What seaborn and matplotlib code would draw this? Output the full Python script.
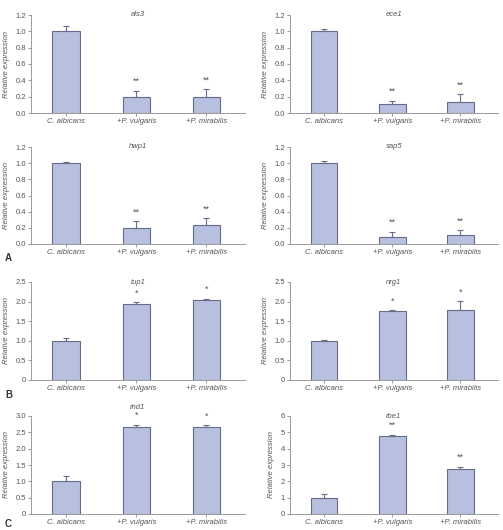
import matplotlib
matplotlib.use("Agg")
import matplotlib.pyplot as plt
import seaborn as sns
import pandas as pd

sns.set_style("ticks")
plt.rcParams["font.family"] = ["Liberation Sans Narrow", "Liberation Sans", "DejaVu Sans"]

groups = ["C. albicans", "+P. vulgaris", "+P. mirabilis"]

genes = ["als3", "ece1", "hwp1", "sap5", "tup1", "nrg1", "rhd1", "rbe1"]
means = {
    "als3": [1.00, 0.20, 0.20],
    "ece1": [1.00, 0.11, 0.14],
    "hwp1": [1.00, 0.20, 0.23],
    "sap5": [1.00, 0.09, 0.11],
    "tup1": [1.00, 1.94, 2.05],
    "nrg1": [1.00, 1.76, 1.79],
    "rhd1": [1.00, 2.66, 2.65],
    "rbe1": [1.00, 4.80, 2.78],
}
errors = {
    "als3": [0.06, 0.07, 0.09],
    "ece1": [0.03, 0.04, 0.09],
    "hwp1": [0.02, 0.08, 0.09],
    "sap5": [0.03, 0.06, 0.06],
    "tup1": [0.07, 0.04, 0.02],
    "nrg1": [0.02, 0.02, 0.22],
    "rhd1": [0.15, 0.07, 0.06],
    "rbe1": [0.20, 0.05, 0.10],
}
stars = {
    "als3": ["", "**", "**"],
    "ece1": ["", "**", "**"],
    "hwp1": ["", "**", "**"],
    "sap5": ["", "**", "**"],
    "tup1": ["", "*", "*"],
    "nrg1": ["", "*", "*"],
    "rhd1": ["", "*", "*"],
    "rbe1": ["", "**", "**"],
}
yticks = {
    "als3": [0.0, 0.2, 0.4, 0.6, 0.8, 1.0, 1.2],
    "ece1": [0.0, 0.2, 0.4, 0.6, 0.8, 1.0, 1.2],
    "hwp1": [0.0, 0.2, 0.4, 0.6, 0.8, 1.0, 1.2],
    "sap5": [0.0, 0.2, 0.4, 0.6, 0.8, 1.0, 1.2],
    "tup1": [0, 0.5, 1.0, 1.5, 2.0, 2.5],
    "nrg1": [0, 0.5, 1.0, 1.5, 2.0, 2.5],
    "rhd1": [0, 0.5, 1.0, 1.5, 2.0, 2.5, 3.0],
    "rbe1": [0, 1, 2, 3, 4, 5, 6],
}
ytick_labels = {
    "als3": ["0.0", "0.2", "0.4", "0.6", "0.8", "1.0", "1.2"],
    "ece1": ["0.0", "0.2", "0.4", "0.6", "0.8", "1.0", "1.2"],
    "hwp1": ["0.0", "0.2", "0.4", "0.6", "0.8", "1.0", "1.2"],
    "sap5": ["0.0", "0.2", "0.4", "0.6", "0.8", "1.0", "1.2"],
    "tup1": ["0", "0.5", "1.0", "1.5", "2.0", "2.5"],
    "nrg1": ["0", "0.5", "1.0", "1.5", "2.0", "2.5"],
    "rhd1": ["0", "0.5", "1.0", "1.5", "2.0", "2.5", "3.0"],
    "rbe1": ["0", "1", "2", "3", "4", "5", "6"],
}

W, H = 503, 530
fig = plt.figure(figsize=(W / 100, H / 100), dpi=100)

# axes boxes in pixels: (top, bottom) per row, (left, right) per column
rows = [(15, 113), (147, 244), (282, 380), (416, 514)]
cols = [(31, 245), (290, 498)]

bar_color = "#b8c0e0"
edge_color = "#676c8a"
text_color = "#555555"
axis_color = "#8a8a8a"

for i, gene in enumerate(genes):
    top, bottom = rows[i // 2]
    left, right = cols[i % 2]
    ax = fig.add_axes([left / W, 1 - bottom / H, (right - left) / W, (bottom - top) / H])
    df = pd.DataFrame({"group": groups, "value": means[gene]})
    sns.barplot(data=df, x="group", y="value", color=bar_color, edgecolor=edge_color,
                linewidth=0.8, width=0.39, saturation=1, errorbar=None, ax=ax)
    ax.errorbar(range(3), means[gene], yerr=[[0, 0, 0], errors[gene]], fmt="none",
                ecolor=edge_color, elinewidth=0.8, capsize=2.5, capthick=0.8)
    ymax = yticks[gene][-1]
    for j in range(3):
        if stars[gene][j]:
            ax.text(j, means[gene][j] + errors[gene][j] + 0.05 * ymax, stars[gene][j],
                    ha="center", va="bottom", fontsize=6.5, color=text_color)
    ax.set_ylim(0, ymax)
    ax.set_xlim(-0.5, 2.55)
    ax.set_yticks(yticks[gene])
    ax.set_yticklabels(ytick_labels[gene])
    ax.set_xticks(range(3))
    ax.set_xticklabels(groups, style="italic")
    ax.set_xlabel("")
    ax.set_ylabel("Relative expression", fontsize=5.5, color=text_color, style="italic")
    title_y = 1.085 if gene == "rhd1" else 1.0
    ax.text(0.5, title_y, gene, transform=ax.transAxes, ha="center", va="center",
            fontsize=5.5, style="italic", color=text_color)
    for side in ["top", "right"]:
        ax.spines[side].set_visible(False)
    for side in ["left", "bottom"]:
        ax.spines[side].set_color(axis_color)
        ax.spines[side].set_linewidth(0.6)
    ax.tick_params(axis="both", labelsize=5.5, colors=axis_color, labelcolor=text_color,
                   length=2, width=0.6, pad=1.5)

for letter, y in [("A", 258), ("B", 395), ("C", 524)]:
    fig.text(5 / W, 1 - y / H, letter, fontsize=7, fontweight="bold", color="#333333",
             va="center")

fig.savefig("out.png", dpi=100)
